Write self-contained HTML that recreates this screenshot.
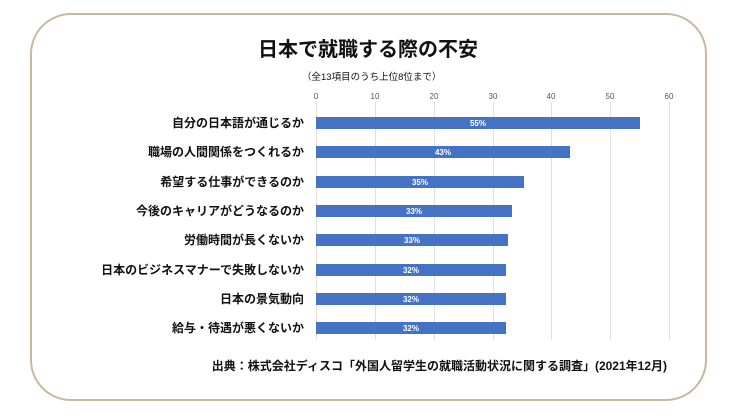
<!DOCTYPE html>
<html><head><meta charset="utf-8"><style>
body{margin:0;width:736px;height:414px;background:#fff;overflow:hidden;font-family:"Liberation Sans","Noto Sans CJK JP",sans-serif;}
</style></head><body>
<svg width="736" height="414" xmlns="http://www.w3.org/2000/svg" font-family="Liberation Sans, Noto Sans CJK JP, sans-serif">
<rect x="31" y="14" width="675" height="386" rx="40" ry="40" fill="#fff" stroke="#c9b99b" stroke-width="2"/>
<text x="368" y="56" text-anchor="middle" font-size="20" font-weight="bold" fill="#111">日本で就職する際の不安</text>
<text x="302" y="80" font-size="9.5" fill="#111">（全13項目のうち上位8位まで）</text>
<g stroke="#e0e0e0" stroke-width="1">
<line x1="316.5" y1="102" x2="316.5" y2="340"/><line x1="375.5" y1="102" x2="375.5" y2="340"/><line x1="434.5" y1="102" x2="434.5" y2="340"/><line x1="493.5" y1="102" x2="493.5" y2="340"/><line x1="551.5" y1="102" x2="551.5" y2="340"/><line x1="610.5" y1="102" x2="610.5" y2="340"/><line x1="669.5" y1="102" x2="669.5" y2="340"/>
</g>
<g font-size="8" fill="#555" text-anchor="middle">
<text x="316" y="99">0</text><text x="375" y="99">10</text><text x="434" y="99">20</text><text x="493" y="99">30</text><text x="551" y="99">40</text><text x="610" y="99">50</text><text x="669" y="99">60</text>
</g>
<g fill="#4472c4">
<rect x="316" y="117" width="324" height="12"/>
<rect x="316" y="146" width="254" height="12"/>
<rect x="316" y="176" width="208" height="12"/>
<rect x="316" y="205" width="196" height="12"/>
<rect x="316" y="234" width="192" height="12"/>
<rect x="316" y="264" width="190" height="12"/>
<rect x="316" y="293" width="190" height="12"/>
<rect x="316" y="322" width="190" height="12"/>
</g>
<g font-size="8" fill="#fff" font-weight="bold" text-anchor="middle">
<text x="478" y="126">55%</text><text x="443" y="155">43%</text><text x="420" y="185">35%</text><text x="414" y="214">33%</text><text x="412" y="243">33%</text><text x="411" y="273">32%</text><text x="411" y="302">32%</text><text x="411" y="331">32%</text>
</g>
<g font-size="12" font-weight="bold" fill="#111" text-anchor="end">
<text x="304" y="127">自分の日本語が通じるか</text>
<text x="304" y="156">職場の人間関係をつくれるか</text>
<text x="304" y="186">希望する仕事ができるのか</text>
<text x="304" y="215">今後のキャリアがどうなるのか</text>
<text x="304" y="244">労働時間が長くないか</text>
<text x="304" y="274">日本のビジネスマナーで失敗しないか</text>
<text x="304" y="303">日本の景気動向</text>
<text x="304" y="332">給与・待遇が悪くないか</text>
</g>
<text x="667" y="370" text-anchor="end" font-size="12" font-weight="bold" fill="#111">出典：株式会社ディスコ「外国人留学生の就職活動状況に関する調査」(2021年12月)</text>
</svg>
</body></html>
